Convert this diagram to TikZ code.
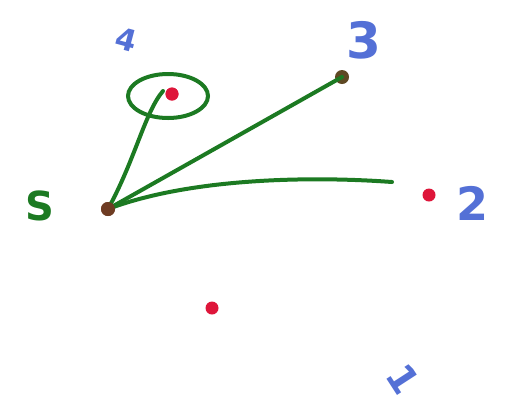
\documentclass[tikz,border=0pt]{standalone}
\usepackage{fontspec}
\setsansfont{DejaVu Sans}
\definecolor{pgreen}{RGB}{28,122,34}
\definecolor{pblue}{RGB}{84,112,214}
\definecolor{pred}{RGB}{222,22,58}
\definecolor{pdark}{RGB}{110,60,35}
\tikzset{
  stroke/.style={pgreen, line width=4pt, line cap=round},
  reddot/.style={circle, fill=pred, inner sep=0pt, minimum size=13pt},
  darkdot/.style={circle, fill=pdark, inner sep=0pt, minimum size=14pt},
  lbl/.style={pblue, font=\sffamily\bfseries\fontsize{34}{34}\selectfont, inner sep=0pt},
}
\begin{document}
\begin{tikzpicture}[x=1pt,y=-1pt]
\useasboundingbox (0,0) rectangle (524,408);
\node[darkdot] (s) at (108,209) {};
\node[reddot] (p4) at (172,94) {};
\node[darkdot, fill=pdark!80!pgreen] (p3) at (342,77) {};
\node[reddot] (p2) at (429,195) {};
\node[reddot] (p5) at (212,308) {};
\coordinate (e2) at (392,182);
\coordinate (e4) at (163,91);
% labels
\node[pgreen, font=\sffamily\bfseries\fontsize{40}{40}\selectfont, inner sep=0pt] (ls) at (40,206) {S};
\node[lbl, font=\sffamily\bfseries\fontsize{30}{30}\selectfont, rotate=-15] (l4) at (126,40) {4};
\node[lbl, font=\sffamily\bfseries\fontsize{50}{50}\selectfont] (l3) at (364,40) {3};
\node[lbl, font=\sffamily\bfseries\fontsize{46}{46}\selectfont] (l2) at (472,203) {2};
\node[lbl, font=\sffamily\bfseries\fontsize{38}{38}\selectfont, rotate=-57] (l1) at (403,379) {1};
% edges
\draw[stroke] (s) -- (p3.center);
\draw[stroke] (s.center) .. controls (190,178) and (310,176) .. (e2);
\draw[stroke] (s.center) .. controls (135,160) and (145,112) .. (e4);
\draw[stroke] (168,96) ellipse (40pt and 22pt);
\node[reddot] at (p4) {};
\node[darkdot] at (s) {};
\end{tikzpicture}
\end{document}
